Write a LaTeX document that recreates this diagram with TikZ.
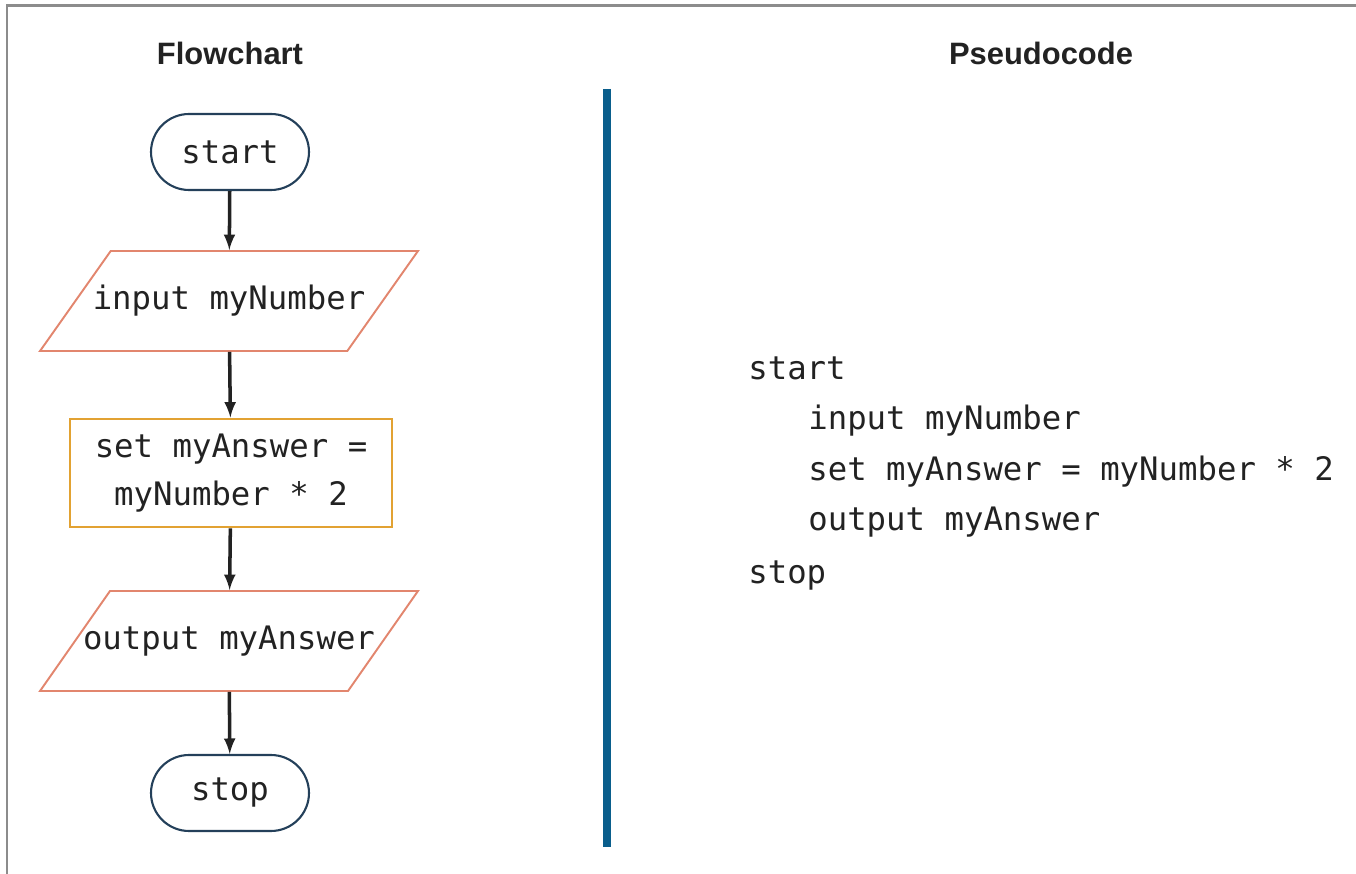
\documentclass[tikz,border=0pt]{standalone}
\usepackage{fontspec}
\setmainfont{Liberation Sans}
\setmonofont{DejaVu Sans Mono}
\usepackage{xcolor}
\usetikzlibrary{shapes.misc,shapes.geometric}

\definecolor{termline}{HTML}{24405A}
\definecolor{ioline}{HTML}{E2866E}
\definecolor{procline}{HTML}{E2A232}
\definecolor{divblue}{HTML}{0A5E8C}
\definecolor{frameg}{HTML}{8C8C8C}
\definecolor{inkc}{HTML}{222222}

\newcommand{\codefont}{\ttfamily\fontsize{18.4}{27}\selectfont}
\newcommand{\iotext}[1]{\makebox[4.64cm]{#1}}

\begin{document}
\begin{tikzpicture}[x=0.02cm, y=-0.02cm,
		terminal/.style={draw=termline, line width=1.2pt, rounded rectangle, minimum width=3.16cm, minimum height=1.52cm, inner sep=0pt, text=inkc, font=\codefont},
		iobox/.style={draw=ioline, line width=1.1pt, trapezium, trapezium left angle=54, trapezium right angle=126, trapezium stretches body, minimum width=7.56cm, minimum height=2cm, inner xsep=0pt, inner ysep=0.66cm, text=inkc, font=\codefont},
		procbox/.style={draw=procline, line width=1.6pt, rectangle, minimum width=6.44cm, minimum height=2.16cm, inner sep=0pt, align=center, text=inkc, font=\codefont},
		heading/.style={font=\bfseries\fontsize{17.6}{20}\selectfont, text=inkc},
		codeline/.style={anchor=base west, inner sep=0pt, text=inkc, font=\codefont}]
%		    \draw[help lines] (0,0) grid (1356,874);
			\useasboundingbox (0,0) rectangle (1356,874);
			\draw[frameg, line width=0.06cm] (7,874) -- (7,6) -- (1356,6);
			% flowchart side
			\node[heading] (flowtitle) at (230,53) {Flowchart};
			\node[terminal] (start) at (230,152) {start};
			\node[iobox] (input) at (229,301) {\iotext{input myNumber}};
			\node[procbox] (calc) at (231,473) {set myAnswer =\\myNumber * 2};
			\node[iobox] (output) at (229,641) {\iotext{output myAnswer}};
			\node[terminal] (stop) at (230,793) {stop};
			\draw[-latex, line width=2pt, inkc] (start) -- (input);
			\draw[-latex, line width=2pt, inkc] (input) -- (calc);
			\draw[-latex, line width=2pt, inkc] (calc) -- (output);
			\draw[-latex, line width=2pt, inkc] (output) -- (stop);
			% divider
			\coordinate (divtop) at (607,89);
			\coordinate (divbot) at (607,847);
			\draw[divblue, line width=0.15cm] (divtop) -- (divbot);
			% pseudocode side
			\node[heading] (codetitle) at (1041,53) {Pseudocode};
			\node[codeline] (pstart) at (748,380) {start};
			\node[codeline] (pinput) at (808,430) {input myNumber};
			\node[codeline] (pcalc) at (808,481) {set myAnswer = myNumber * 2};
			\node[codeline] (poutput) at (808,531) {output myAnswer};
			\node[codeline] (pstop) at (748,583) {stop};
		\end{tikzpicture}
\end{document}
